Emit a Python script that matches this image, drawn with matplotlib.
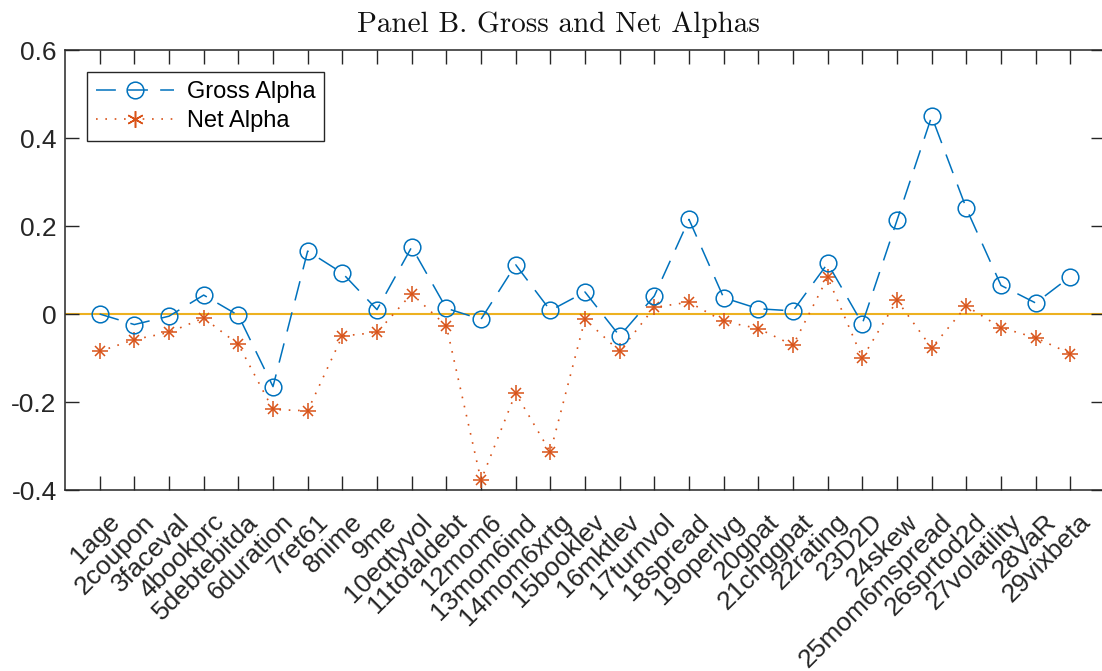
import numpy as np
import matplotlib.pyplot as plt
import matplotlib.transforms as mtransforms
from matplotlib.lines import Line2D

plt.rcParams['font.family'] = ['Liberation Sans', 'DejaVu Sans']

labels = ['1age', '2coupon', '3faceval', '4bookprc', '5debtebitda', '6duration',
          '7ret61', '8nime', '9me', '10eqtyvol', '11totaldebt', '12mom6',
          '13mom6ind', '14mom6xrtg', '15booklev', '16mktlev', '17turnvol',
          '18spread', '19operlvg', '20gpat', '21chggpat', '22rating', '23D2D',
          '24skew', '25mom6mspread', '26sprtod2d', '27volatility', '28VaR',
          '29vixbeta']

gross_alpha = [0.000, -0.024, -0.005, 0.043, -0.003, -0.165, 0.143, 0.093, 0.010,
               0.152, 0.013, -0.012, 0.112, 0.008, 0.050, -0.050, 0.041, 0.215,
               0.037, 0.012, 0.007, 0.115, -0.022, 0.213, 0.449, 0.240, 0.065,
               0.025, 0.085]

net_alpha = [-0.085, -0.058, -0.042, -0.009, -0.069, -0.217, -0.220, -0.050, -0.042,
             0.046, -0.027, -0.378, -0.180, -0.314, -0.012, -0.085, 0.015, 0.027,
             -0.017, -0.033, -0.071, 0.083, -0.100, 0.031, -0.077, 0.018, -0.031,
             -0.054, -0.090]

blue = '#0072BD'
orange = '#D95319'
yellow = '#EDB120'
axcol = '#262626'
dashed = (0, (13, 8))
dotted = (0, (1, 4.6))

x = np.arange(1, len(labels) + 1)

fig = plt.figure(figsize=(11.02, 6.71), dpi=100)
ax = fig.add_axes([65 / 1102, (671 - 490) / 671, 1040 / 1102, 440 / 671])

ax.axhline(0, color=yellow, linewidth=1.5, zorder=1)
ax.plot(x, gross_alpha, linestyle=dashed, color=blue, linewidth=1.1,
        marker='o', markersize=12, markerfacecolor='none', markeredgewidth=1.1,
        zorder=3)
ax.plot(x, net_alpha, linestyle=dotted, color=orange, linewidth=1.2, zorder=2)
# asterisk markers: a plus and a smaller cross on top of each other
ax.plot(x, net_alpha, linestyle='none', color=orange, marker='+', markersize=11,
        markeredgewidth=1.1, zorder=2)
ax.plot(x, net_alpha, linestyle='none', color=orange, marker='x', markersize=7.5,
        markeredgewidth=1.1, zorder=2)

ax.set_xlim(0, 30)
ax.set_ylim(-0.4, 0.6)
ax.set_xticks(x)
ax.set_xticklabels(labels, rotation=45, ha='right', rotation_mode='anchor')
ax.set_yticks([-0.4, -0.2, 0, 0.2, 0.4, 0.6])
ax.set_yticklabels(['-0.4', '-0.2', '0', '0.2', '0.4', '0.6'])
ax.tick_params(direction='in', length=10, width=1, top=True, right=True,
               labelsize=19, colors=axcol, labelcolor=axcol, pad=6)
ax.tick_params(axis='x', pad=10)
shift = mtransforms.ScaledTranslation(8 / 100, -6 / 100, fig.dpi_scale_trans)
for lab in ax.get_xticklabels():
    lab.set_transform(lab.get_transform() + shift)
for s in ax.spines.values():
    s.set_color(axcol)
    s.set_linewidth(1.1)

fig.text(558 / 1102, 639 / 671, 'Panel B. Gross and Net Alphas',
         fontsize=21, family='cmr10', ha='center', va='baseline', color='#111111')

h1 = Line2D([], [], linestyle=dashed, color=blue, linewidth=1.1, marker='o',
            markersize=12, markerfacecolor='none', markeredgewidth=1.1)
h2 = Line2D([], [], linestyle=dotted, color=orange, linewidth=1.2,
            marker=(6, 2, 0), markersize=12, markeredgewidth=1.1)
leg = ax.legend([h1, h2], ['Gross Alpha', 'Net Alpha'], loc='upper left',
                bbox_to_anchor=(0.021, 0.95), borderaxespad=0, fontsize=17,
                fancybox=False, edgecolor=axcol, framealpha=1, handlelength=3.3,
                borderpad=0.38, labelspacing=0.3, handletextpad=0.55)
leg.get_frame().set_linewidth(1.0)

fig.savefig('out.png', dpi=100)
